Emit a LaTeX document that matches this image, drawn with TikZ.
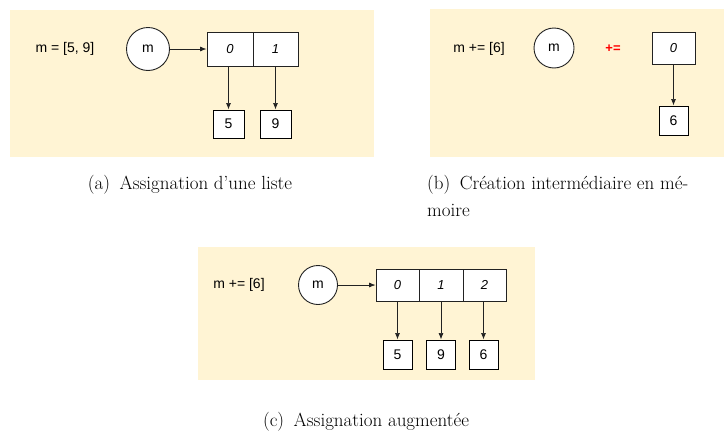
\documentclass[tikz,border=0pt]{standalone}
\usepackage{fontspec}
\newfontfamily\diagfont{Liberation Sans}
\usetikzlibrary{arrows.meta}
\definecolor{panelbg}{HTML}{FFF4D4}
\definecolor{linec}{HTML}{222222}
\tikzset{
  panel/.style={fill=panelbg, draw=none},
  lbl/.style={font=\diagfont\fontsize{14}{16}\selectfont, inner sep=0pt},
  var/.style={circle, draw=linec, line width=0.9pt, fill=white, font=\diagfont\fontsize{14}{16}\selectfont, inner sep=0pt},
  cell/.style={rectangle, draw=linec, line width=0.9pt, fill=white, font=\diagfont\itshape\fontsize{13}{15}\selectfont, inner sep=0pt},
  valbox/.style={rectangle, draw=black, line width=1pt, fill=white, font=\diagfont\fontsize{14}{16}\selectfont, inner sep=0pt},
  ptr/.style={draw=linec, line width=0.7pt, -{Latex[length=6.5pt,width=5pt]}},
  captext/.style={font=\fontsize{19}{24}\selectfont, inner sep=0pt, text=black},
}
\begin{document}
\begin{tikzpicture}[x=1pt,y=-1pt]
\useasboundingbox (0,0) rectangle (726,434);
\fill[white] (0,0) rectangle (726,434);
% panels
\fill[panel] (10,10) rectangle (374,157);
\fill[panel] (430,9) rectangle (724,157);
\fill[panel] (198,247) rectangle (535,380);

% ---------- panel (a)
\node[lbl] (ta) at (65,49) {m = [5, 9]};
\node[var, minimum size=43pt] (ma) at (148,49) {m};
\node[cell, minimum width=46pt, minimum height=34pt] (a0) at (230,49) {0};
\node[cell, minimum width=45pt, minimum height=34pt] (a1) at (275.5,49) {1};
\node[valbox, minimum width=31pt, minimum height=28pt] (a5) at (228.5,124) {5};
\node[valbox, minimum width=31pt, minimum height=28pt] (a9) at (275.5,124) {9};
\draw[ptr] (ma) -- (a0.west);
\draw[ptr] (a0.south -| a5.north) -- (a5.north);
\draw[ptr] (a1.south) -- (a9.north);

% ---------- panel (b)
\node[lbl] (tb) at (479,49) {m += [6]};
\node[var, minimum size=40pt] (mb) at (554,48) {m};
\node[font=\diagfont\bfseries\fontsize{13}{15}\selectfont, text=red, inner sep=0pt] (pe) at (613,49) {+=};
\node[cell, minimum width=43pt, minimum height=32pt] (b0) at (673.5,48) {0};
\node[valbox, minimum width=29pt, minimum height=29pt] (b6) at (673.5,120.5) {6};
\draw[ptr] (b0.south) -- (b6.north);

% ---------- panel (c)
\node[lbl] (tc) at (239,285) {m += [6]};
\node[var, minimum size=39pt] (mc) at (318,285) {m};
\node[cell, minimum width=43pt, minimum height=32pt] (c0) at (397.5,285) {0};
\node[cell, minimum width=44pt, minimum height=32pt] (c1) at (441,285) {1};
\node[cell, minimum width=43pt, minimum height=32pt] (c2) at (484.5,285) {2};
\node[valbox, minimum width=29pt, minimum height=29pt] (c5) at (397.5,354.5) {5};
\node[valbox, minimum width=29pt, minimum height=29pt] (c9) at (441,354.5) {9};
\node[valbox, minimum width=29pt, minimum height=29pt] (c6) at (483.5,354.5) {6};
\draw[ptr] (mc) -- (c0.west);
\draw[ptr] (c0.south) -- (c5.north);
\draw[ptr] (c1.south) -- (c9.north);
\draw[ptr] (c2.south -| c6.north) -- (c6.north);

% ---------- captions
\node[captext] (capa) at (190,185) {(a)\enspace Assignation d’une liste};
\node[captext, anchor=west] (capb1) at (427,185) {(b)\enspace Création intermédiaire en mé-};
\node[captext, anchor=west] (capb2) at (427,210) {moire};
\node[captext] (capc) at (366,422) {(c)\enspace Assignation augmentée};
\end{tikzpicture}
\end{document}
